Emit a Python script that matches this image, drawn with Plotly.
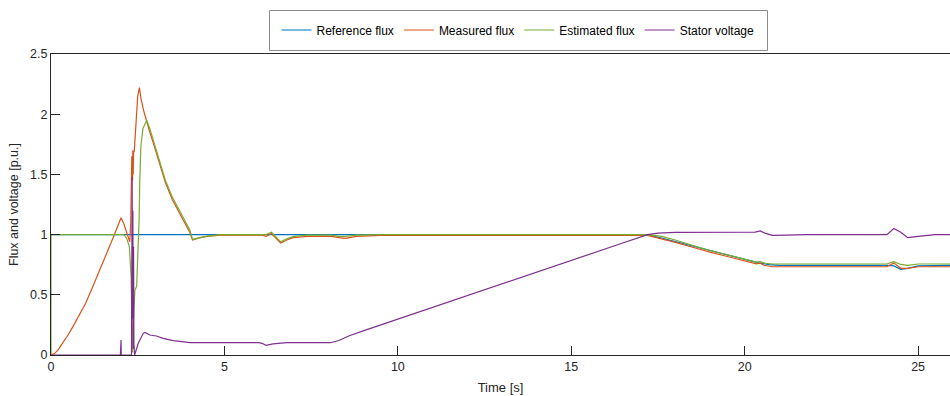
import plotly.graph_objects as go

# Reference flux command [p.u.]
t_ref = [0, 17.2, 17.6, 18.0, 18.5, 19.0, 19.5, 20.0, 20.4, 20.7, 21.0, 24.1, 24.3, 24.5,
         24.7, 25.0, 25.92]
ref_flux = [1.0, 1.0, 0.972, 0.942, 0.903, 0.866, 0.83, 0.793, 0.765, 0.75, 0.745, 0.745,
            0.74, 0.712, 0.72, 0.74, 0.745]

# Measured flux [p.u.]
t_meas = [0, 0.1, 0.2, 0.3, 0.4, 0.5, 0.64, 0.8, 1.0, 1.2, 1.4, 1.6, 1.8, 2.02, 2.1, 2.27,
          2.3, 2.33, 2.35, 2.36, 2.37, 2.38, 2.4, 2.45, 2.5, 2.55, 2.6, 2.68, 2.76, 2.85,
          2.95, 3.05, 3.15, 3.3, 3.5, 3.7, 3.85, 4.0, 4.08, 4.3, 4.5, 4.9, 6.1, 6.2, 6.35,
          6.62, 6.8, 6.98, 7.4, 8.1, 8.3, 8.5, 8.8, 9.5, 17.2, 17.6, 18.0, 18.5, 18.7, 19.0,
          19.5, 20.0, 20.34, 20.45, 20.55, 20.8, 24.1, 24.3, 24.5, 24.7, 25.0, 25.92]
meas_flux = [0.0, 0.012, 0.04, 0.08, 0.125, 0.17, 0.24, 0.325, 0.43, 0.565, 0.7, 0.84,
             0.98, 1.14, 1.09, 0.94, 1.1, 1.65, 1.45, 1.7, 1.5, 1.68, 1.69, 1.95, 2.15, 2.22,
             2.12, 2.02, 1.93, 1.85, 1.76, 1.66, 1.56, 1.43, 1.29, 1.18, 1.1, 1.02, 0.955,
             0.975, 0.985, 0.995, 0.995, 0.985, 1.01, 0.93, 0.955, 0.975, 0.985, 0.985,
             0.975, 0.968, 0.985, 0.993, 0.993, 0.965, 0.935, 0.895, 0.878, 0.855, 0.818,
             0.782, 0.757, 0.765, 0.745, 0.733, 0.733, 0.765, 0.72, 0.72, 0.733, 0.733]

# Estimated flux [p.u.]
t_est = [0, 0, 2.1, 2.18, 2.26, 2.31, 2.33, 2.35, 2.38, 2.42, 2.47, 2.5, 2.54, 2.56, 2.59,
         2.65, 2.76, 2.85, 2.95, 3.05, 3.15, 3.3, 3.5, 3.7, 3.85, 4.0, 4.08, 4.3, 4.5, 4.9,
         6.2, 6.36, 6.62, 6.8, 7.0, 7.4, 8.1, 8.3, 8.5, 8.8, 9.5, 17.2, 17.6, 18.0, 18.5,
         18.7, 19.0, 19.5, 20.0, 20.34, 20.45, 20.6, 20.8, 24.1, 24.3, 24.5, 24.7, 25.0,
         25.92]
est_flux = [0.0, 1.0, 1.0, 0.97, 0.9, 0.65, 0.3, 0.02, 0.3, 0.54, 0.57, 0.8, 1.12, 1.45,
            1.73, 1.88, 1.95, 1.88, 1.78, 1.68, 1.58, 1.45, 1.31, 1.2, 1.12, 1.04, 0.96,
            0.975, 0.987, 1.0, 1.0, 1.02, 0.94, 0.965, 0.985, 0.995, 0.995, 0.985, 0.985,
            0.995, 1.0, 1.0, 0.985, 0.955, 0.915, 0.893, 0.868, 0.832, 0.797, 0.772, 0.775,
            0.762, 0.756, 0.756, 0.775, 0.752, 0.745, 0.756, 0.756]

# Stator voltage [p.u.]
t_volt = [0, 2.0, 2.02, 2.025, 2.32, 2.34, 2.35, 2.36, 2.37, 2.38, 2.39, 2.41, 2.52, 2.66,
          2.71, 2.85, 3.04, 3.23, 3.52, 4.0, 6.0, 6.1, 6.2, 6.4, 6.8, 8.05, 8.3, 8.6, 9.0,
          16.4, 17.2, 17.5, 18.0, 20.3, 20.45, 20.6, 20.8, 21.2, 21.8, 24.1, 24.3, 24.5,
          24.7, 25.0, 25.5, 25.92]
stator_voltage = [0.0, 0.0, 0.125, 0.0, 0.0, 1.48, 0.3, 1.2, 0.05, 0.9, 0.1, 0.0, 0.1, 0.18,
                  0.188, 0.166, 0.158, 0.138, 0.119, 0.102, 0.102, 0.095, 0.08, 0.092, 0.102,
                  0.102, 0.12, 0.16, 0.2, 0.922, 1.0, 1.012, 1.018, 1.02, 1.03, 1.01, 0.993,
                  0.995, 1.0, 1.0, 1.05, 1.02, 0.975, 0.985, 1.0, 1.0]

x_ticks = [0, 5, 10, 15, 20, 25]
y_ticks = [0, 0.5, 1, 1.5, 2, 2.5]

series = [
    ("Reference flux", t_ref, ref_flux, "#0072BD"),
    ("Measured flux", t_meas, meas_flux, "#D95319"),
    ("Estimated flux", t_est, est_flux, "#77AC30"),
    ("Stator voltage", t_volt, stator_voltage, "#7E2F8E"),
]

fig = go.Figure()
for name, t, v, color in series:
    fig.add_trace(go.Scatter(x=t, y=v, mode="lines", name=name,
                             line=dict(color=color, width=1.2)))

axis_color = "#262626"
font_family = "Liberation Sans, Arial, sans-serif"

# Plot area in pixels: left 51, right 950, top 54, bottom 355
W, H = 950, 396
L, R, T, B = 51, 0, 54, 41
pw, ph = W - L - R, H - T - B


def px_x(px):
    return (px - L) / pw


def px_y(py):
    return (H - B - py) / ph


fig.update_layout(
    width=W, height=H,
    margin=dict(l=L, r=R, t=T, b=B),
    paper_bgcolor="white", plot_bgcolor="white",
    font=dict(family=font_family, size=12.5, color=axis_color),
    showlegend=True,
    legend=dict(orientation="h", x=px_x(518), xanchor="center", y=px_y(30),
                yanchor="middle", borderwidth=0, bgcolor="rgba(0,0,0,0)",
                font=dict(size=12, color="black")),
    shapes=[dict(type="rect", xref="paper", yref="paper",
                 x0=px_x(269.5), x1=px_x(767.5), y0=px_y(10.5), y1=px_y(50.5),
                 line=dict(color="#8c8c8c", width=1), fillcolor="white", layer="below")],
    xaxis=dict(range=[0, 25.92], tickvals=x_ticks, ticks="inside", ticklen=9,
               tickcolor=axis_color, showline=True, linecolor=axis_color, linewidth=1,
               mirror=True, showgrid=False, zeroline=False,
               title=dict(text="Time [s]", font=dict(size=13), standoff=9)),
    yaxis=dict(range=[0, 2.5], tickvals=y_ticks, ticks="inside", ticklen=9,
               tickcolor=axis_color, showline=True, linecolor=axis_color, linewidth=1,
               showgrid=False, zeroline=False,
               title=dict(text="Flux and voltage [p.u.]", font=dict(size=12.5), standoff=8)),
)

fig.write_html("out.html")
